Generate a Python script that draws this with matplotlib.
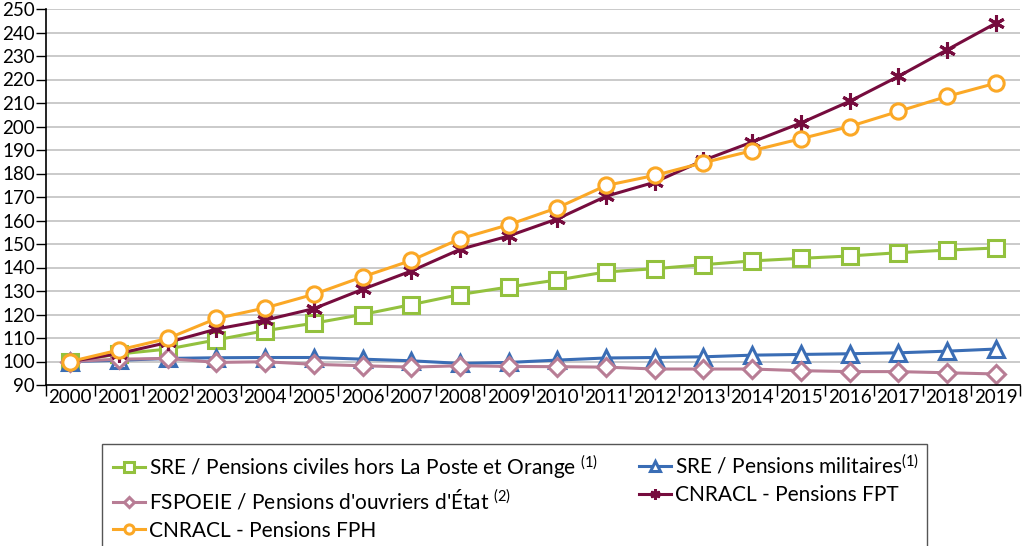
import matplotlib
matplotlib.use("Agg")
import matplotlib.pyplot as plt
from matplotlib import font_manager
from matplotlib.patches import Rectangle

# data (index base 100 in 2000)
years = [str(y) for y in range(2000, 2020)]
sre_civiles = [100, 103.2, 105.3, 109.2, 113.1, 116.3, 120.0, 124.2, 128.5, 131.7,
               134.7, 138.1, 139.5, 141.2, 142.8, 143.9, 144.9, 146.3, 147.4, 148.3]
sre_militaires = [100, 100.5, 101.3, 101.6, 101.7, 101.7, 101.0, 100.3, 99.2, 99.6,
                  100.6, 101.5, 101.7, 102.0, 102.7, 103.0, 103.3, 103.7, 104.4, 105.3]
fspoeie = [100, 101.0, 101.3, 99.6, 99.9, 98.8, 98.2, 97.6, 98.2, 97.9,
           97.8, 97.6, 96.8, 96.8, 96.8, 96.1, 95.7, 95.7, 95.2, 94.7]
cnracl_fpt = [100, 103.4, 108.1, 113.8, 117.6, 122.5, 130.7, 138.5, 147.7, 153.4,
              160.7, 170.3, 176.3, 185.6, 193.4, 201.5, 210.7, 221.3, 232.6, 243.9]
cnracl_fph = [100, 104.9, 109.8, 118.3, 122.8, 128.6, 136.0, 143.0, 152.2, 158.2,
              165.4, 174.9, 179.2, 184.6, 189.7, 194.8, 200.0, 206.4, 212.8, 218.4]
y_ticks = list(range(90, 251, 10))


def pick_font(names):
    for n in names:
        try:
            font_manager.findfont(font_manager.FontProperties(family=n), fallback_to_default=False)
            return n
        except Exception:
            pass
    return 'DejaVu Sans'


axis_font = pick_font(['Lato', 'Open Sans', 'Roboto', 'Noto Sans'])
plt.rcParams['font.family'] = [axis_font, 'DejaVu Sans']
plt.rcParams['mathtext.fontset'] = 'custom'
plt.rcParams['mathtext.rm'] = axis_font
plt.rcParams['mathtext.it'] = axis_font

fig = plt.figure(figsize=(10.33, 5.46), dpi=100)
ax = fig.add_axes([46 / 1033, 1 - 385 / 546, (1020 - 46) / 1033, (385 - 9) / 546])

x = list(range(len(years)))
mk = dict(markerfacecolor='white', markersize=11, markeredgewidth=2.2, linewidth=2.2)

l1, = ax.plot(x, sre_civiles, color='#93C13E', marker='s', label='SRE / Pensions civiles hors La Poste et Orange $^{(1)}$', **mk)
l2, = ax.plot(x, sre_militaires, color='#3A6DB5', marker='^', label='SRE / Pensions militaires$^{(1)}$', **mk)
l3, = ax.plot(x, fspoeie, color='#B87D95', marker='D', label="FSPOEIE / Pensions d'ouvriers d'État $^{(2)}$",
              **dict(mk, markersize=9))
l4, = ax.plot(x, cnracl_fpt, color='#760C3E', marker=(6, 2, 0), label='CNRACL - Pensions FPT',
              **dict(mk, markersize=12))
l5, = ax.plot(x, cnracl_fph, color='#FBA826', marker='o', label='CNRACL - Pensions FPH', **mk)

ax.set_ylim(90, 250)
ax.set_xlim(-0.5, len(years) - 0.5)
ax.set_yticks(y_ticks)
ax.tick_params(axis='y', labelsize=13.5, length=7, width=1, pad=1, colors='black')
ax.yaxis.grid(True, color='#CACACA', linewidth=1.4)
ax.set_axisbelow(True)

# category axis: ticks between years, labels at the middle
ax.set_xticks([i - 0.5 for i in range(len(years) + 1)])
ax.set_xticklabels([])
ax.set_xticks(x, minor=True)
ax.set_xticklabels(years, minor=True, fontsize=13.5)
ax.tick_params(axis='x', which='major', length=8, width=1)
ax.tick_params(axis='x', which='minor', length=0, pad=3)

for s in ['top', 'right']:
    ax.spines[s].set_visible(False)
ax.spines['left'].set_linewidth(1.2)
ax.spines['bottom'].set_linewidth(1.2)

# legend box, two columns placed separately
fig.patches.append(Rectangle((102 / 1033, -0.05), (927 - 102) / 1033, 0.05 + (546 - 444) / 546,
                             transform=fig.transFigure, fill=False, edgecolor='#555555', linewidth=1))
leg_kw = dict(loc='upper left', frameon=False, handlelength=1.55, handletextpad=0.2,
              labelspacing=0.38, markerscale=0.6, borderaxespad=0, borderpad=0,
              prop={'size': 15})
fig.legend(handles=[l1, l3, l5], bbox_to_anchor=(113 / 1033, 1 - 453 / 546), **leg_kw)
fig.legend(handles=[l2, l4], bbox_to_anchor=(639 / 1033, 1 - 453 / 546), **leg_kw)

fig.savefig('out.png', dpi=100)
